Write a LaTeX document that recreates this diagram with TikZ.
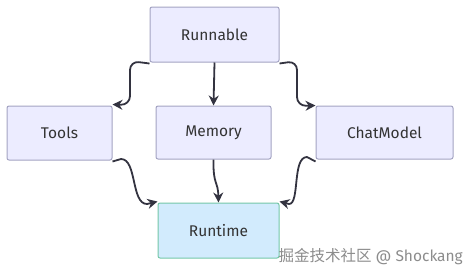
\documentclass[tikz,border=0pt]{standalone}
\usepackage{fontspec}
\setmainfont{Fira Sans}
\newfontfamily\cjk{Noto Sans CJK SC}
\usetikzlibrary{arrows.meta}
\definecolor{nodefill}{HTML}{ECECFF}
\definecolor{nodeline}{HTML}{A3A3C2}
\definecolor{rtfill}{HTML}{D2EBFD}
\definecolor{rtline}{HTML}{74C7A8}
\definecolor{edgecol}{HTML}{333340}
\definecolor{wmark}{HTML}{8C8C8C}
\begin{document}
\begin{tikzpicture}[x=1pt,y=-1pt,
  box/.style={draw=nodeline, fill=nodefill, line width=1pt, rounded corners=2pt, font=\fontsize{15.5}{17}\selectfont, text=black!80},
  rtbox/.style={box, draw=rtline, fill=rtfill},
  conn/.style={draw=edgecol, line width=1.8pt, -{Stealth[length=10pt,width=10pt]}, rounded corners=9pt}]
\useasboundingbox (0,0) rectangle (470,274);
\node[box, minimum width=129pt, minimum height=55pt] (run) at (214.5,34.5) {Runnable};
\node[box, minimum width=105pt, minimum height=54pt] (tools) at (59.5,133) {Tools};
\node[box, minimum width=115pt, minimum height=53pt] (mem) at (213.5,132.5) {Memory};
\node[box, minimum width=137pt, minimum height=53pt] (chat) at (384.5,132.5) {ChatModel};
\node[rtbox, minimum width=121pt, minimum height=55pt] (rt) at (218.5,230.5) {Runtime};
\node[font=\fontsize{15.5}{17}\selectfont, text=wmark, anchor=east, inner sep=0pt] (wm) at (463,257) {{\cjk 掘金技术社区} @ Shockang};
% edges
\draw[conn] ([yshift=-1pt]run.south west) -- (130,61) -- (130,105) -- ([yshift=1pt]tools.north east);
\draw[conn] (run.south) -- (mem.north);
\draw[conn] ([yshift=-1pt]run.south east) -- (297,61) -- (297,106) -- (chat.north west);
\draw[conn, rounded corners=0pt] ([yshift=-1pt]tools.south east) -- (121,159) .. controls (137,159) and (131,204) .. (147,204) -- ([yshift=1pt]rt.north west);
\draw[conn, rounded corners=0pt] (mem.south) .. controls (213,186) and (218,180) .. (rt.north);
\draw[conn, rounded corners=0pt] ([yshift=-2pt]chat.south west) -- (307,157) .. controls (292,157) and (300,204) .. (289,204) -- ([yshift=1pt]rt.north east);
\end{tikzpicture}
\end{document}
